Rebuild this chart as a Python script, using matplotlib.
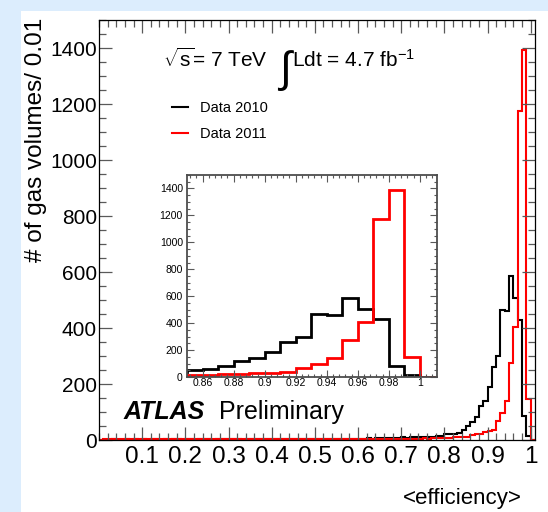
"""
Gas volume efficiency, data 2010 vs 2011, with a zoomed inset.
"""
import numpy as np
import matplotlib
matplotlib.use('Agg')
import matplotlib.pyplot as plt
from matplotlib.patches import Rectangle
from matplotlib.ticker import MultipleLocator

plt.rcParams['font.family'] = ['Liberation Sans', 'DejaVu Sans']
plt.rcParams['mathtext.fontset'] = 'custom'
plt.rcParams['mathtext.rm'] = 'Liberation Sans'
plt.rcParams['mathtext.it'] = 'Liberation Sans:italic'

# bins of 0.01 from 0.00 to 1.01
bin_edges = np.round(np.arange(0.0, 1.015, 0.01), 2)

# entries per bin, 0.00 ... 1.00 (101 bins)
data_2010 = [
    0, 1, 1, 2, 1, 1, 2, 1, 2, 1,          # 0.00 - 0.09
    2, 1, 2, 2, 1, 2, 1, 2, 2, 1,          # 0.10 - 0.19
    2, 2, 1, 2, 2, 2, 1, 2, 2, 2,          # 0.20 - 0.29
    2, 2, 2, 1, 2, 3, 2, 2, 3, 2,          # 0.30 - 0.39
    3, 2, 3, 3, 2, 3, 3, 4, 3, 3,          # 0.40 - 0.49
    3, 4, 3, 4, 4, 3, 4, 5, 4, 5,          # 0.50 - 0.59
    5, 4, 6, 5, 6, 7, 6, 7, 8, 8,          # 0.60 - 0.69
    9, 8, 10, 9, 11, 10, 12, 11, 13, 14,   # 0.70 - 0.79
    20, 22, 20, 26, 36, 50, 63, 82, 120, 140,      # 0.80 - 0.89
    188, 260, 300, 465, 460, 585, 506, 430, 85, 15,  # 0.90 - 0.99
    0,                                     # 1.00
]
data_2011 = [
    0, 3, 3, 4, 3, 3, 4, 3, 3, 4,          # 0.00 - 0.09
    3, 3, 4, 3, 4, 3, 3, 4, 3, 3,          # 0.10 - 0.19
    4, 3, 3, 4, 3, 4, 3, 3, 4, 3,          # 0.20 - 0.29
    3, 4, 3, 3, 4, 3, 4, 3, 3, 4,          # 0.30 - 0.39
    3, 4, 3, 4, 3, 4, 4, 3, 4, 4,          # 0.40 - 0.49
    4, 3, 4, 4, 3, 4, 4, 4, 3, 4,          # 0.50 - 0.59
    4, 4, 5, 4, 4, 5, 4, 5, 5, 4,          # 0.60 - 0.69
    5, 5, 4, 5, 5, 6, 5, 6, 6, 7,          # 0.70 - 0.79
    7, 8, 9, 10, 10, 12, 18, 20, 22, 30,   # 0.80 - 0.89
    33, 35, 68, 98, 140, 275, 405, 1175, 1392, 148,  # 0.90 - 0.99
    0,                                     # 1.00
]
labels = ['Data 2010', 'Data 2011']
colors = ['black', 'red']

main_xticks = [0.1, 0.2, 0.3, 0.4, 0.5, 0.6, 0.7, 0.8, 0.9, 1.0]
main_xticklabels = ['0.1', '0.2', '0.3', '0.4', '0.5', '0.6', '0.7', '0.8', '0.9', '1']
inset_xticks = [0.86, 0.88, 0.90, 0.92, 0.94, 0.96, 0.98, 1.00]
inset_xticklabels = ['0.86', '0.88', '0.9', '0.92', '0.94', '0.96', '0.98', '1']
yticks = [0, 200, 400, 600, 800, 1000, 1200, 1400]

W, H = 548, 512


def fx(x):
    return x / W


def fy(y):
    return 1 - y / H


fig = plt.figure(figsize=(W / 100, H / 100), dpi=100, facecolor='#dcedfd')
fig.patches.append(Rectangle((fx(21), 0), 1 - fx(21), fy(11), transform=fig.transFigure,
                             facecolor='white', edgecolor='none', zorder=-10))

ax = fig.add_axes([fx(99), fy(440), fx(535) - fx(99), fy(20) - fy(440)])
axin = fig.add_axes([fx(187), fy(377), fx(437) - fx(187), fy(175) - fy(377)])

for a, lw in [(ax, 1.5), (axin, 2.0)]:
    a.stairs(data_2010, bin_edges, color=colors[0], lw=lw, label=labels[0])
    a.stairs(data_2011, bin_edges, color=colors[1], lw=lw, label=labels[1])
    a.set_ylim(0, 1500)
    a.set_yticks(yticks)
    a.tick_params(which='both', direction='in', top=True, right=True, color='0.35')

# main axes
ax.set_xlim(0.0, 1.01)
ax.set_xticks(main_xticks)
ax.set_xticklabels(main_xticklabels)
ax.xaxis.set_minor_locator(MultipleLocator(0.02))
ax.yaxis.set_minor_locator(MultipleLocator(50))
ax.tick_params(which='major', length=9.5, width=0.9, labelsize=15)
ax.tick_params(which='minor', length=4.8, width=0.9)
ax.tick_params(axis='x', pad=4, labelsize=17.5)
ax.tick_params(axis='y', pad=1.5)
for s in ax.spines.values():
    s.set_linewidth(0.9)

# inset axes
axin.set_xlim(0.85, 1.011)
axin.set_xticks(inset_xticks)
axin.set_xticklabels(inset_xticklabels)
axin.xaxis.set_minor_locator(MultipleLocator(0.004))
axin.yaxis.set_minor_locator(MultipleLocator(50))
axin.tick_params(which='major', length=5, width=0.8, labelsize=7.5)
axin.tick_params(which='minor', length=2.5, width=0.8)
axin.tick_params(axis='x', pad=1)
axin.tick_params(axis='y', pad=3)
for s in axin.spines.values():
    s.set_linewidth(1.3)
    s.set_color('0.3')

# legend
ax.legend(loc='upper left', bbox_to_anchor=((172 - 99) / 436, (440 - 101) / 420),
          frameon=False, fontsize=10.5, handlelength=1.1, handletextpad=0.8,
          labelspacing=0.85, borderpad=0, borderaxespad=0)

# text
fig.text(fx(163), fy(67), r'$\sqrt{\mathrm{s}}$= 7 TeV', fontsize=15, va='baseline', ha='left')
fig.text(fx(285), fy(71), '\u222b', fontsize=31, va='center', ha='center')
fig.text(fx(292), fy(67), r'Ldt = 4.7 fb$^{-1}$', fontsize=15, va='baseline', ha='left')
fig.text(fx(124), fy(419), 'ATLAS', fontsize=18, fontweight='bold', fontstyle='italic',
         va='baseline', ha='left')
fig.text(fx(219), fy(419), 'Preliminary', fontsize=18, va='baseline', ha='left')

fig.text(fx(36), fy(18), '# of gas volumes/ 0.01', fontsize=17.5, rotation=90,
         ha='center', va='top')
fig.text(fx(522), fy(504), '<efficiency>', fontsize=16, ha='right', va='baseline')

fig.savefig('out.png', dpi=100, facecolor=fig.get_facecolor())
